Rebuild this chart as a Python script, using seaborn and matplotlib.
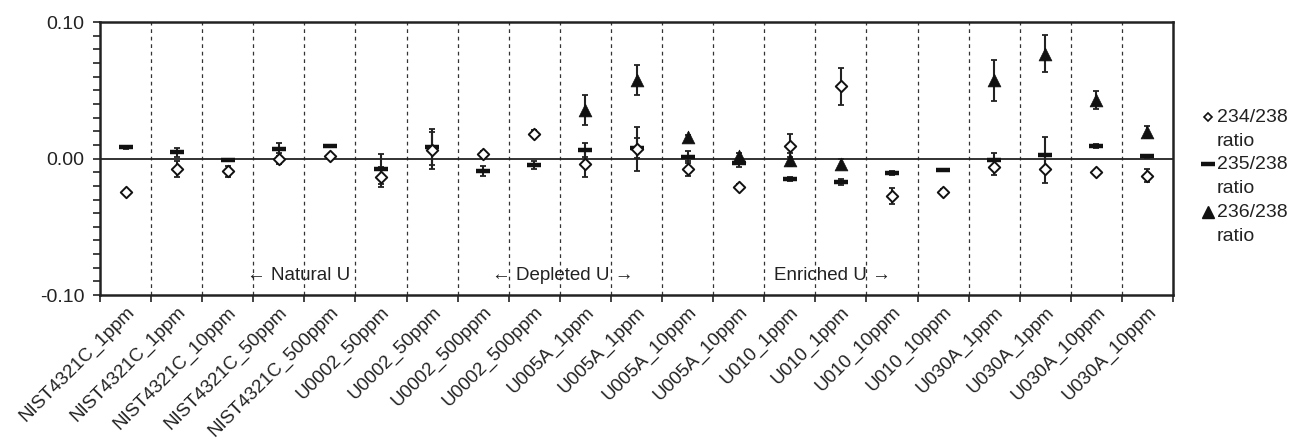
import numpy as np
import pandas as pd
import matplotlib
matplotlib.use("Agg")
import matplotlib.pyplot as plt
import seaborn as sns

nan = np.nan

samples = ['NIST4321C_1ppm', 'NIST4321C_1ppm', 'NIST4321C_10ppm', 'NIST4321C_50ppm',
           'NIST4321C_500ppm', 'U0002_50ppm', 'U0002_50ppm', 'U0002_500ppm',
           'U0002_500ppm', 'U005A_1ppm', 'U005A_1ppm', 'U005A_10ppm', 'U005A_10ppm',
           'U010_1ppm', 'U010_1ppm', 'U010_10ppm', 'U010_10ppm', 'U030A_1ppm',
           'U030A_1ppm', 'U030A_10ppm', 'U030A_10ppm']

r234 = [-0.0242, -0.0075, -0.0092, 0.0000, 0.0018, -0.0136, 0.0060, 0.0031, 0.0183, -0.0037,
        0.0068, -0.0075, -0.0208, 0.0095, 0.0529, -0.0276, -0.0244, -0.0061, -0.0073, -0.0098,
        -0.0125]
e234 = [0.0015, 0.0060, 0.0040, 0.0040, 0.0015, 0.0075, 0.0135, 0.0025, 0.0025, 0.0100,
        0.0160, 0.0055, 0.0020, 0.0085, 0.0134, 0.0057, 0.0020, 0.0060, 0.0105, 0.0015,
        0.0050]
r235 = [0.0083, 0.0045, -0.0011, 0.0067, 0.0092, -0.0079, 0.0085, -0.0091, -0.0047, 0.0063,
        0.0078, 0.0012, -0.0030, -0.0149, -0.0171, -0.0103, -0.0081, -0.0012, 0.0029, 0.0090,
        0.0017]
e235 = [0.0012, 0.0033, 0.0010, 0.0050, 0.0010, 0.0110, 0.0130, 0.0037, 0.0027, 0.0050,
        0.0072, 0.0044, 0.0035, 0.0015, 0.0020, 0.0015, 0.0008, 0.0050, 0.0130, 0.0015,
        0.0012]
r236 = [nan, nan, nan, nan, nan, nan, nan, nan, nan, 0.0354,
        0.0573, 0.0158, 0.0022, -0.0007, -0.0037, nan, nan, 0.0573, 0.0769, 0.0427,
        0.0195]
e236 = [nan, nan, nan, nan, nan, nan, nan, nan, nan, 0.0110,
        0.0110, 0.0015, 0.0020, 0.0050, 0.0035, nan, nan, 0.0150, 0.0135, 0.0067,
        0.0045]

groups = ['\u2190 Natural U', '\u2190 Depleted U \u2192', 'Enriched U \u2192']
group_x = [2.38, 7.17, 12.69]
group_y = -0.086

legend_labels = ['234/238', '235/238', '236/238']

sns.set_style('white')
plt.rcParams['font.family'] = ['Liberation Sans', 'DejaVu Sans']

x = np.arange(len(samples))
df = pd.DataFrame({'x': x, 'r234': r234, 'e234': e234, 'r235': r235, 'e235': e235,
                   'r236': r236, 'e236': e236})

fig = plt.figure(figsize=(12.89, 4.43), dpi=100)
ax = fig.add_axes([0.0776, 0.334, 0.8324, 0.616])

# boundaries between samples
for b in np.arange(0.5, len(samples) - 0.5, 1):
    ax.axvline(b, color='#333333', lw=0.9, ls=(0, (3, 3)), zorder=1)
ax.axhline(0, color='#222222', lw=1.3, zorder=1)

for col in ['234', '235', '236']:
    ax.errorbar(df['x'], df['r' + col], yerr=df['e' + col], fmt='none',
                ecolor='#222222', elinewidth=1.5, capsize=2.5, capthick=1.3, zorder=2)

sns.scatterplot(data=df, x='x', y='r235', marker='_', s=110, color='#111111',
                linewidth=3.2, ax=ax, zorder=3, legend=False)
sns.scatterplot(data=df, x='x', y='r234', marker='D', s=34, color='white',
                edgecolor='#111111', linewidth=1.4, ax=ax, zorder=4, legend=False)
sns.scatterplot(data=df, x='x', y='r236', marker='^', s=85, color='#111111',
                edgecolor='#111111', linewidth=0.5, ax=ax, zorder=5, legend=False)

for g, gx in zip(groups, group_x):
    ax.text(gx, group_y, g, fontsize=13.5, color='#222222', va='center', ha='left')

ax.set_xlim(-0.5, len(samples) - 0.5)
ax.set_ylim(-0.1, 0.1)
ax.set_yticks([-0.1, 0.0, 0.1])
ax.set_yticklabels(['-0.10', '0.00', '0.10'], fontsize=14, color='#222222')
ax.set_yticks(np.arange(-0.1, 0.1001, 0.01), minor=True)
ax.set_xticks(x)
ax.set_xticklabels(samples, rotation=45, ha='right', rotation_mode='anchor',
                   fontsize=13.5, color='#222222')
ax.set_xticks(np.arange(-0.5, len(samples), 1), minor=True)
ax.tick_params(axis='x', which='major', length=0, pad=6)
ax.tick_params(axis='x', which='minor', length=5, width=1.2, direction='out',
               color='#222222', bottom=True)
ax.tick_params(axis='y', which='both', length=5, width=1.2, direction='out',
               color='#222222', left=True, pad=6)
ax.set_xlabel('')
ax.set_ylabel('')
for s in ax.spines.values():
    s.set_visible(True)
    s.set_color('#222222')
    s.set_linewidth(1.8)

# legend drawn beside the axes
leg_y = [0.652, 0.480, 0.304]
leg_marker = [dict(marker='D', ms=4.5, mfc='white', mec='#111111', mew=1.2),
              dict(marker='_', ms=10, mec='#111111', mew=3.2),
              dict(marker='^', ms=8, mfc='#111111', mec='#111111')]
for lab, ly, mk in zip(legend_labels, leg_y, leg_marker):
    ax.plot([1.0326], [ly], transform=ax.transAxes, clip_on=False, ls='none', **mk)
    ax.text(1.041, ly, lab, transform=ax.transAxes, fontsize=14, color='#222222',
            va='center', ha='left')
    ax.text(1.041, ly - 0.088, 'ratio', transform=ax.transAxes, fontsize=14,
            color='#222222', va='center', ha='left')

fig.savefig('out.png', dpi=100)
